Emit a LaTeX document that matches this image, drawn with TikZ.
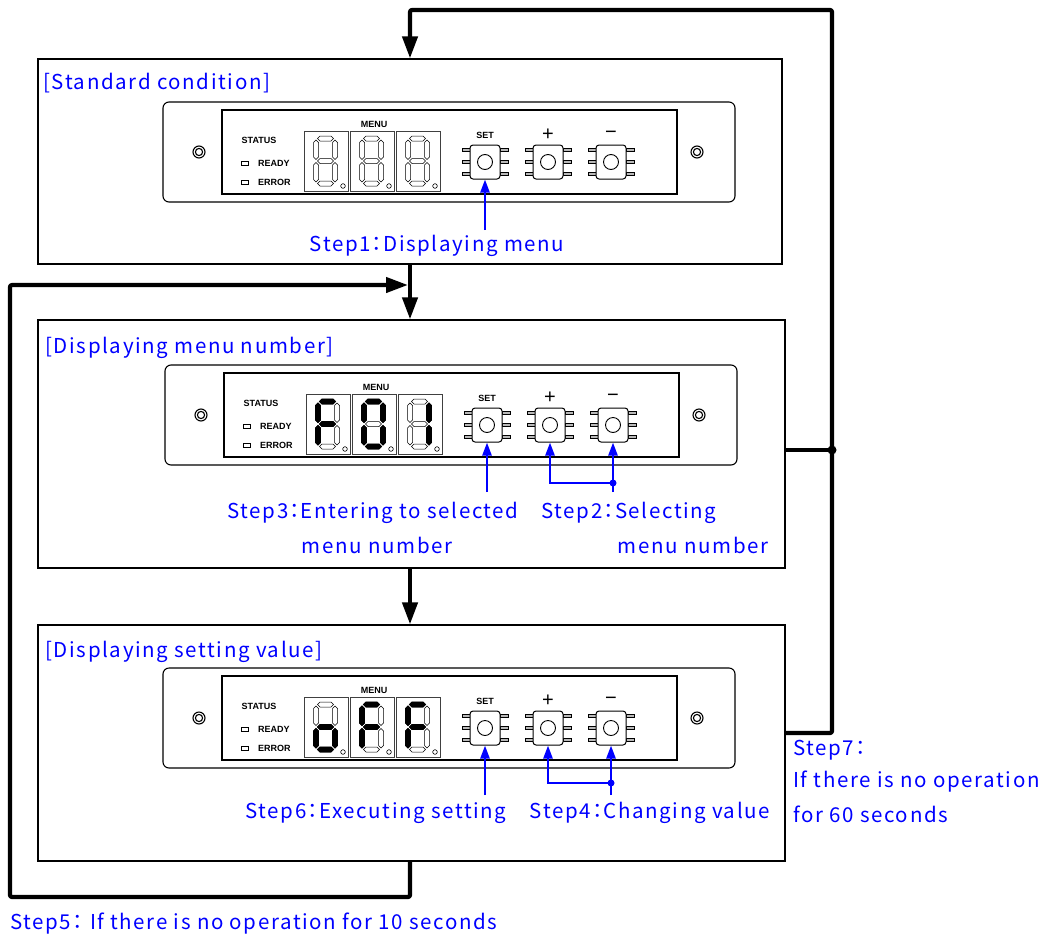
\documentclass[tikz,border=0pt]{standalone}
\usepackage{fontspec}
\setmainfont{Liberation Sans}
\newfontfamily\jpfont[LetterSpace=8]{Noto Sans CJK JP}
\usetikzlibrary{arrows.meta,calc}

\definecolor{stepblue}{RGB}{0,0,255}
\newcommand\stepcolon{\kern-4pt：\kern-4pt}

\tikzset{
  flowline/.style={line width=4.2pt, line join=round},
  flowarrow/.style={flowline, -{Triangle[length=22pt,width=15pt]}},
  blueline/.style={draw=stepblue, line width=2.4pt},
  bluearrow/.style={blueline, -{Triangle[length=13pt,width=9pt]}},
  steplabel/.style={text=stepblue, font=\jpfont\fontsize{20.5}{24}\selectfont, inner sep=0pt},
  panelbox/.style={draw, line width=1.2pt, inner sep=0pt},
  plate/.style={draw, line width=1.1pt, rounded corners=6pt},
  window/.style={draw, line width=1.2pt},
  screw/.style={draw, line width=1.1pt},
  led/.style={draw, line width=0.8pt, fill=white},
  paneltext/.style={font=\bfseries\fontsize{9}{10}\selectfont, inner sep=0pt},
  signtext/.style={font=\fontsize{20}{20}\selectfont, inner sep=0pt},
  keybody/.style={draw, line width=1pt, rounded corners=3pt, minimum width=30pt, minimum height=34pt, inner sep=0pt},
  keypin/.style={draw, line width=0.6pt, fill=gray!55},
  digitframe/.style={draw=black!75, line width=0.8pt},
  segoff/.style={draw=black, line width=0.5pt, fill=white},
  segon/.style={draw=black, line width=0.8pt, fill=black},
  seg none/.pic={},
  seg a/.pic={\path[pic actions] (-8,-22.5) -- (-5.5,-25) -- (5.5,-25) -- (8,-22.5) -- (5.5,-20) -- (-5.5,-20) -- cycle;},
  seg g/.pic={\path[pic actions] (-8,0) -- (-5.5,-2.5) -- (5.5,-2.5) -- (8,0) -- (5.5,2.5) -- (-5.5,2.5) -- cycle;},
  seg d/.pic={\path[pic actions] (-8,22.5) -- (-5.5,20) -- (5.5,20) -- (8,22.5) -- (5.5,25) -- (-5.5,25) -- cycle;},
  seg f/.pic={\path[pic actions] (-9.5,-21) -- (-7,-18.5) -- (-7,-4) -- (-9.5,-1.5) -- (-12,-4) -- (-12,-18.5) -- cycle;},
  seg b/.pic={\path[pic actions] (9.5,-21) -- (12,-18.5) -- (12,-4) -- (9.5,-1.5) -- (7,-4) -- (7,-18.5) -- cycle;},
  seg e/.pic={\path[pic actions] (-9.5,1.5) -- (-7,4) -- (-7,18.5) -- (-9.5,21) -- (-12,18.5) -- (-12,4) -- cycle;},
  seg c/.pic={\path[pic actions] (9.5,1.5) -- (12,4) -- (12,18.5) -- (9.5,21) -- (7,18.5) -- (7,4) -- cycle;},
}

% one seven-segment cell: #1,#2 top-left of its frame, #3 lit segments
\newcommand\digitcell[3]{%
  \draw[digitframe] (#1,#2) rectangle ++(44,60);
  \begin{scope}[shift={(#1+21.5,#2+30)}, xslant=0.14]
    \foreach \s in {a,b,c,d,e,f,g} \pic[segoff]{seg \s};
    \foreach \s in {#3} \pic[segon]{seg \s};
  \end{scope}
  \draw[line width=0.6pt] (#1+39,#2+55) circle (2.3);
}

% front plate of the controller: #1 name prefix, #2,#3 top-left, #4-#6 lit segments
\newcommand\ctrlplate[6]{%
  \begin{scope}[shift={(#2,#3)}]
    \draw[plate] (0,0) rectangle (572,100);
    \draw[window] (59,8) rectangle (514,92);
    \foreach \sx in {36,534} {
      \draw[screw] (\sx,50) circle (6);
      \draw[screw] (\sx,50) circle (3.6);
    }
    \node[paneltext] (#1-status) at (96,38) {STATUS};
    \draw[led] (78.5,59) rectangle ++(7,4);
    \draw[led] (78.5,78) rectangle ++(7,4);
    \node[paneltext, anchor=west] (#1-ready) at (95,61) {READY};
    \node[paneltext, anchor=west] (#1-error) at (95,80) {ERROR};
    \node[paneltext] (#1-menu) at (211,22) {MENU};
    \digitcell{141}{29}{#4}
    \digitcell{187}{29}{#5}
    \digitcell{233}{29}{#6}
    \node[paneltext] (#1-setlbl) at (322,33) {SET};
    \node[signtext] (#1-pluslbl) at (385,33) {+};
    \node[signtext] (#1-minuslbl) at (448,33) {−};
    \foreach \bx/\bn in {322/set,385/plus,448/minus} {
      \foreach \py in {-12,0,12} {
        \draw[keypin] (\bx-23,60+\py-1.5) rectangle (\bx-15,60+\py+1.5);
        \draw[keypin] (\bx+15,60+\py-1.5) rectangle (\bx+23,60+\py+1.5);
      }
      \node[keybody, fill=white] (#1-\bn) at (\bx,60) {};
      \draw[line width=0.9pt] (\bx,60) circle (7.5);
    }
  \end{scope}
}

\begin{document}
\begin{tikzpicture}[x=1pt, y=-1pt]
\useasboundingbox (0,0) rectangle (1046,937);

% the three operating states
\node[panelbox, minimum width=744pt, minimum height=205pt] (std) at (410,161.5) {};
\node[panelbox, minimum width=747pt, minimum height=248pt] (num) at (411.5,444) {};
\node[panelbox, minimum width=747pt, minimum height=236pt] (val) at (411.5,743) {};

\node[steplabel, anchor=west] (std-title) at (43,83) {[Standard condition]};
\node[steplabel, anchor=west] (num-title) at (45,348) {[Displaying menu number]};
\node[steplabel, anchor=west] (val-title) at (45,652) {[Displaying setting value]};

\ctrlplate{p1}{163}{102}{none}{none}{none}
\ctrlplate{p2}{165}{365}{a,f,g,e}{a,b,c,d,e,f}{b,c}
\ctrlplate{p3}{163}{668}{c,d,e,g}{a,f,g,e}{a,f,g,e}

% key presses
\coordinate (p1foot) at (p1-set.south |- 0,230);
\draw[bluearrow] (p1foot) -- (p1-set.south);
\node[steplabel] (step1) at (437,246) {Step1\stepcolon Displaying menu};

\coordinate (p2foot) at (p2-set.south |- 0,492);
\coordinate (p2dot) at (p2-minus.south |- 0,483);
\coordinate (p2mfoot) at (p2-minus.south |- 0,492);
\draw[bluearrow] (p2foot) -- (p2-set.south);
\draw[bluearrow] (p2mfoot) -- (p2-minus.south);
\draw[bluearrow] (p2dot) -- (p2dot -| p2-plus.south) -- (p2-plus.south);
\fill[stepblue] (p2dot) circle (3.5);
\node[steplabel] (step3) at (373,513) {Step3\stepcolon Entering to selected};
\node[steplabel] (step3b) at (377,545) {menu number};
\node[steplabel] (step2) at (629,513) {Step2\stepcolon Selecting};
\node[steplabel] (step2b) at (693,545) {menu number};

\coordinate (p3foot) at (p3-set.south |- 0,795);
\coordinate (p3dot) at (p3-minus.south |- 0,783);
\coordinate (p3mfoot) at (p3-minus.south |- 0,795);
\draw[bluearrow] (p3foot) -- (p3-set.south);
\draw[bluearrow] (p3mfoot) -- (p3-minus.south);
\draw[bluearrow] (p3dot) -- (p3dot -| p3-plus.south) -- (p3-plus.south);
\fill[stepblue] (p3dot) circle (3.5);
\node[steplabel] (step6) at (376,813) {Step6\stepcolon Executing setting};
\node[steplabel] (step4) at (650,813) {Step4\stepcolon Changing value};

% state transitions
\draw[flowarrow] (std.south) -- (std.south |- num.north);
\draw[flowarrow] (num.south -| std.south) -- (std.south |- val.north);

\coordinate (rbus) at (832,733);
\coordinate (rtop) at (832,10);
\coordinate (ltop) at (410,10);
\coordinate (jn) at (832,450);
\draw[flowarrow, rounded corners=2pt] (rbus -| val.east) -- (rbus) -- (rtop) -- (ltop) -- (ltop |- std.north);
\draw[flowline] (jn -| num.east) -- (jn);
\fill (jn) circle (4.5);

\coordinate (bl) at (10,897);
\coordinate (tl) at (10,285);
\coordinate (merge) at (408,285);
\draw[flowarrow, rounded corners=2pt] (val.south -| std.south) -- (std.south |- bl) -- (bl) -- (tl) -- (merge);

\node[steplabel, anchor=west] (step7) at (793,750) {Step7\stepcolon};
\node[steplabel, anchor=west] (step7b) at (793,782) {If there is no operation};
\node[steplabel, anchor=west] (step7c) at (793,814) {for 60 seconds};
\node[steplabel, anchor=west] (step5) at (10,924) {Step5\stepcolon\ If there is no operation for 10 seconds};
\end{tikzpicture}
\end{document}
